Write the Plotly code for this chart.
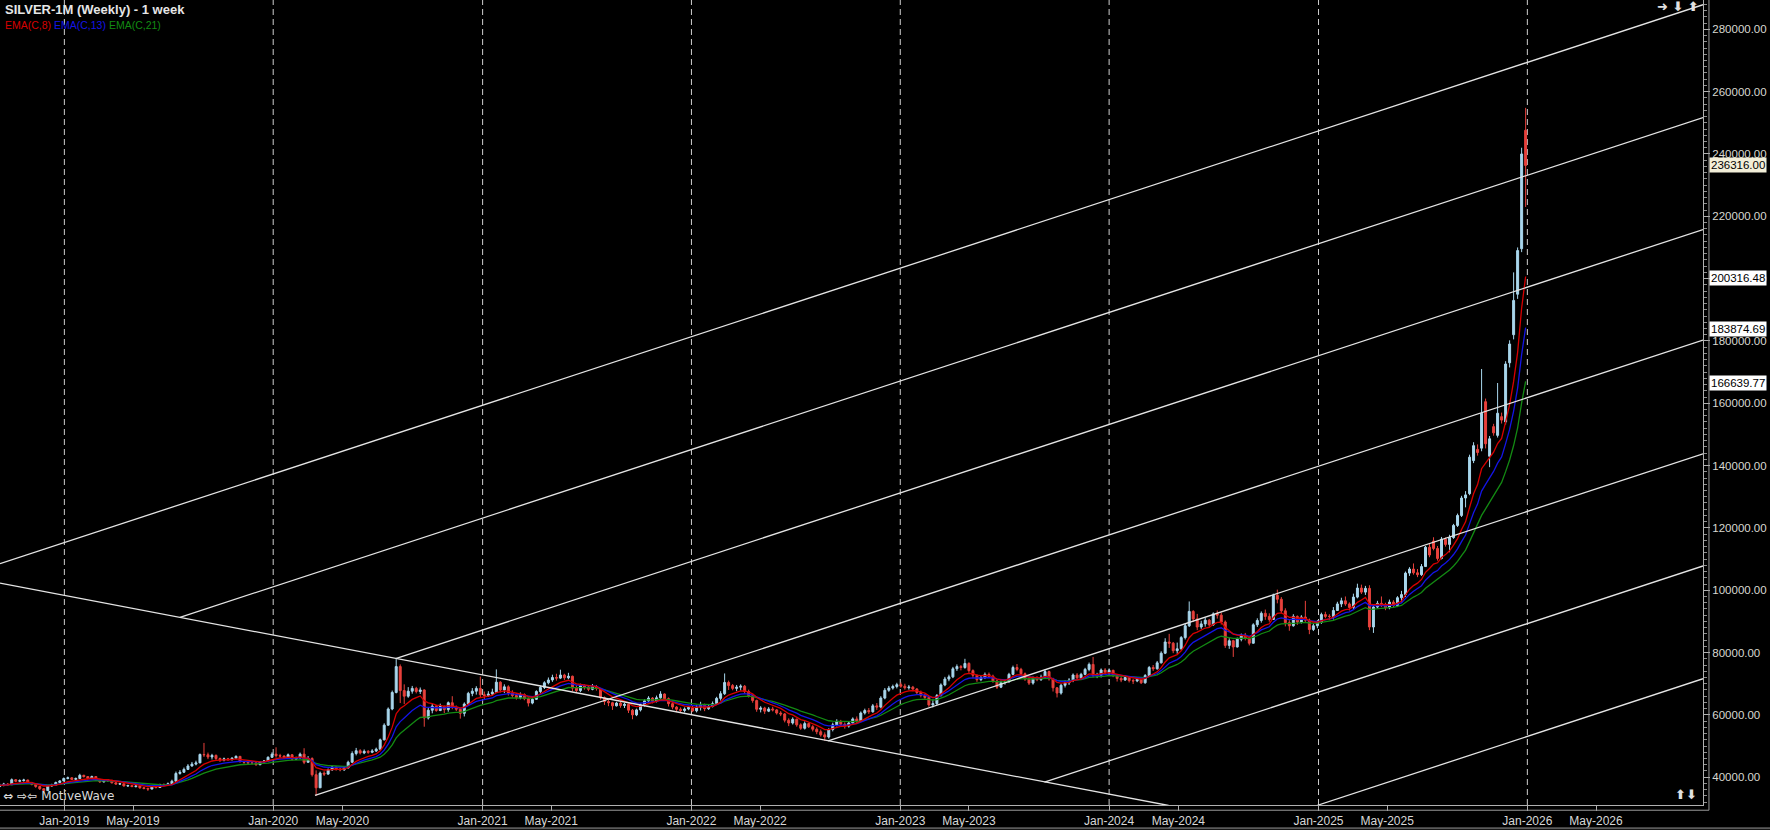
import pandas as pd
import plotly.graph_objects as go

TITLE = "SILVER-1M (Weekly) - 1 week"
FIRST_WEEK = "2018-09-10"

# Weekly closes, highs, lows in thousands
close_k = [
    37.4, 37.8, 37.6, 39.2, 38.7, 38.9, 39.1, 38.3, 37.7, 37.0,
    36.3, 35.7, 37.2, 37.5, 38.3, 38.8, 39.6, 39.8, 39.3, 39.6,
    40.6, 40.2, 39.6, 40.2, 39.3, 38.5, 38.9, 39.0, 38.2, 37.8,
    37.9, 37.2, 37.3, 37.0, 37.2, 36.6, 36.4, 36.2, 36.9, 36.7,
    37.6, 37.4, 37.9, 38.7, 41.2, 41.6, 42.5, 43.6, 44.2, 44.6,
    47.3, 47.2, 46.5, 47.0, 46.0, 45.5, 45.9, 45.7, 46.1, 46.7,
    45.0, 44.8, 44.6, 44.6, 44.0, 44.9, 45.2, 46.4, 47.4, 46.9,
    46.8, 46.4, 47.2, 45.8, 46.2, 47.4, 44.8, 46.0, 40.8, 36.6,
    41.3, 41.0, 42.4, 43.3, 42.6, 42.4, 43.0, 44.8, 47.6, 48.5,
    47.8, 48.3, 48.0, 48.4, 49.0, 52.0, 56.7, 61.9, 67.2, 75.5,
    67.8, 66.0, 67.6, 68.5, 67.5, 68.0, 59.0, 61.5, 62.8, 61.4,
    62.7, 61.7, 63.9, 62.4, 61.8, 60.5, 63.5, 66.9, 67.6, 68.5,
    66.5, 66.2, 66.7, 67.3, 70.5, 68.0, 69.0, 67.0, 66.2, 65.6,
    66.5, 65.2, 63.8, 65.0, 67.5, 68.8, 70.3, 71.2, 72.0, 71.8,
    72.8, 71.9, 72.4, 68.6, 67.8, 69.4, 68.9, 68.2, 69.0, 68.5,
    65.5, 64.3, 63.9, 62.9, 63.8, 63.0, 63.4, 61.5, 60.0, 61.6,
    63.2, 64.5, 65.4, 64.4, 65.5, 66.7, 65.2, 63.6, 62.5, 61.8,
    61.4, 61.9, 62.4, 61.3, 62.5, 63.1, 62.0, 62.7, 63.6, 65.3,
    66.8, 70.4, 69.4, 68.5, 68.9, 69.2, 67.5, 66.2, 64.6, 61.8,
    62.2, 61.2, 61.9, 61.6, 60.6, 60.3, 58.3, 57.4, 58.6, 56.8,
    55.7, 57.2, 56.2, 55.4, 54.6, 53.6, 52.9, 55.3, 56.8, 57.9,
    57.0, 56.4, 57.4, 58.7, 58.0, 60.6, 61.4, 61.0, 62.9, 62.5,
    65.4, 67.9, 68.6, 69.1, 69.7, 69.2, 68.7, 68.9, 68.3, 67.2,
    66.3, 65.6, 63.2, 63.6, 66.2, 69.6, 71.5, 72.2, 74.8, 75.5,
    75.2, 76.5, 74.2, 72.7, 71.3, 72.0, 73.0, 72.4, 70.9, 68.9,
    70.4, 70.6, 73.0, 75.2, 74.6, 73.2, 71.5, 70.2, 71.8, 71.3,
    72.1, 73.9, 71.6, 68.7, 67.0, 69.5, 70.3, 71.2, 72.8, 71.9,
    73.0, 74.6, 76.2, 72.6, 72.7, 74.4, 73.7, 74.3, 72.6, 71.7,
    71.2, 72.0, 71.0, 70.9, 71.4, 70.3, 72.6, 75.2, 74.8, 76.7,
    79.8, 83.4, 83.0, 80.6, 81.2, 84.8, 88.6, 93.2, 90.8, 88.2,
    89.2, 90.4, 88.9, 92.4, 92.0, 89.8, 82.3, 83.8, 81.8, 84.3,
    85.6, 84.6, 83.0, 88.9, 90.3, 92.6, 91.6, 90.6, 98.4, 97.1,
    93.4, 89.6, 88.6, 91.6, 89.8, 91.4, 90.4, 87.4, 88.6, 89.7,
    92.2, 91.6, 91.6, 93.5, 95.6, 96.6, 95.6, 94.5, 97.8, 100.7,
    99.4, 100.6, 88.2, 94.6, 95.8, 95.4, 94.4, 96.2, 95.1, 97.6,
    98.6, 105.5, 106.8, 105.6, 105.0, 107.6, 113.8, 111.3, 113.4, 110.2,
    116.4, 114.7, 116.9, 120.8, 124.0, 129.6, 130.6, 142.7, 146.4, 144.2,
    156.8, 147.0, 148.6, 150.5, 156.8, 154.6, 172.6, 179.0, 193.0, 209.0,
    240.0, 236.316,
]

high_k = [
    37.9, 38.2, 38.1, 39.6, 39.4, 39.3, 39.5, 39.2, 38.5, 37.9,
    37.2, 36.5, 37.5, 37.9, 38.6, 39.1, 39.9, 40.2, 40.0, 39.9,
    41.1, 40.8, 40.3, 40.5, 40.3, 39.4, 39.1, 39.4, 39.1, 38.4,
    38.2, 38.0, 37.6, 37.5, 37.4, 37.3, 36.9, 36.6, 37.1, 37.2,
    37.9, 38.0, 38.3, 39.2, 41.8, 42.3, 43.1, 44.2, 44.9, 45.3,
    47.6, 51.0, 47.9, 47.5, 47.3, 46.3, 46.3, 46.2, 46.4, 47.0,
    46.8, 45.3, 45.1, 45.0, 44.9, 45.2, 45.5, 46.7, 48.0, 49.6,
    47.5, 47.0, 47.6, 47.4, 46.6, 47.9, 49.3, 46.8, 46.4, 42.2,
    41.8, 41.9, 42.8, 43.8, 43.6, 43.0, 43.4, 45.3, 48.3, 49.4,
    49.0, 48.9, 48.7, 49.0, 49.5, 52.4, 57.3, 62.4, 67.8, 77.9,
    76.2, 69.8, 68.9, 69.3, 69.0, 68.8, 68.2, 62.3, 63.5, 63.2,
    63.6, 63.0, 64.3, 66.0, 63.0, 62.3, 64.0, 67.4, 68.6, 69.2,
    72.3, 67.5, 67.6, 68.4, 74.6, 70.8, 69.8, 69.5, 67.9, 67.0,
    67.2, 66.9, 65.6, 65.5, 67.9, 69.4, 70.8, 72.0, 72.9, 73.2,
    74.5, 73.2, 73.5, 72.6, 69.5, 70.0, 69.8, 69.3, 69.9, 69.6,
    68.6, 65.9, 64.8, 64.2, 64.2, 64.3, 63.9, 63.6, 61.9, 62.0,
    63.6, 65.0, 66.0, 65.7, 66.2, 67.6, 66.9, 65.6, 64.3, 62.8,
    62.4, 62.4, 62.9, 62.9, 63.2, 64.2, 63.6, 63.3, 64.3, 65.8,
    67.6, 73.3, 71.0, 69.9, 69.6, 69.8, 69.6, 68.1, 66.6, 64.9,
    62.8, 62.6, 62.5, 62.6, 61.9, 61.2, 60.6, 58.9, 59.2, 58.8,
    57.3, 57.9, 57.5, 56.7, 56.0, 55.3, 54.4, 55.7, 57.5, 58.6,
    58.4, 57.6, 58.0, 59.2, 59.5, 61.1, 62.0, 62.2, 63.5, 63.8,
    66.0, 68.6, 69.3, 69.7, 70.3, 70.4, 70.0, 69.6, 69.3, 68.6,
    67.8, 66.7, 65.9, 64.9, 66.7, 70.1, 72.2, 72.9, 75.4, 76.2,
    76.0, 78.0, 76.9, 74.6, 73.0, 72.6, 73.6, 73.6, 72.9, 71.2,
    71.0, 71.3, 73.5, 75.8, 76.3, 75.1, 73.6, 71.9, 72.3, 72.4,
    72.9, 74.5, 74.2, 71.9, 68.9, 70.0, 71.2, 71.8, 73.3, 73.4,
    73.5, 75.1, 76.8, 78.6, 73.5, 74.9, 75.0, 74.9, 74.5, 72.9,
    72.4, 72.6, 72.5, 71.6, 72.0, 71.7, 73.1, 75.7, 76.0, 77.3,
    80.4, 84.6, 86.0, 83.4, 83.2, 85.3, 89.2, 96.4, 93.6, 92.4,
    90.2, 91.2, 90.8, 92.9, 93.5, 92.8, 90.3, 84.6, 84.1, 84.8,
    86.1, 86.3, 85.0, 89.4, 91.0, 93.2, 93.8, 92.6, 98.9, 100.2,
    97.8, 94.2, 90.4, 92.3, 91.9, 92.0, 96.6, 90.9, 89.3, 90.4,
    92.8, 93.1, 92.3, 94.6, 96.3, 97.6, 98.0, 96.1, 98.9, 102.1,
    101.8, 101.4, 101.6, 95.4, 96.6, 98.0, 96.0, 97.0, 96.8, 98.1,
    99.8, 106.0, 107.4, 108.6, 106.8, 108.4, 114.2, 114.8, 117.0, 114.2,
    117.1, 116.9, 117.8, 121.3, 124.6, 130.3, 131.8, 143.5, 147.5, 146.8,
    171.0, 161.5, 149.5, 153.4, 166.5, 157.0, 173.5, 180.2, 202.0, 210.0,
    242.0, 254.8,
]

low_k = [
    36.9, 37.1, 37.2, 37.5, 38.4, 38.4, 38.6, 38.0, 37.4, 36.6,
    35.9, 35.1, 35.6, 36.9, 37.3, 38.1, 38.7, 39.3, 39.1, 39.0,
    39.5, 39.9, 39.3, 39.5, 39.0, 38.2, 38.3, 38.6, 38.0, 37.6,
    37.5, 37.0, 36.9, 36.8, 36.7, 36.3, 36.1, 35.6, 36.1, 36.4,
    36.6, 37.1, 37.2, 37.8, 38.6, 40.8, 41.4, 42.3, 43.4, 43.8,
    44.5, 46.5, 45.8, 45.7, 45.4, 44.9, 45.1, 45.2, 45.3, 45.9,
    44.7, 44.3, 44.2, 44.1, 43.7, 43.9, 44.6, 45.0, 46.2, 46.3,
    46.2, 46.0, 46.1, 45.4, 45.6, 46.0, 44.2, 44.6, 40.2, 34.0,
    36.8, 40.4, 40.8, 42.0, 42.1, 41.9, 42.0, 42.8, 44.6, 47.0,
    47.3, 47.4, 47.5, 47.7, 48.1, 48.8, 51.8, 56.5, 61.5, 66.9,
    63.8, 63.5, 65.5, 66.8, 66.9, 66.7, 56.2, 58.5, 60.5, 61.0,
    61.2, 60.6, 61.0, 61.8, 61.2, 58.8, 59.5, 63.2, 66.0, 66.5,
    65.5, 64.9, 65.8, 66.3, 67.0, 67.2, 67.0, 66.2, 65.5, 64.9,
    65.0, 64.7, 62.7, 63.4, 64.8, 67.0, 68.3, 69.8, 70.6, 71.0,
    71.5, 71.2, 71.4, 67.5, 67.2, 67.3, 68.1, 67.6, 67.9, 67.8,
    64.9, 63.2, 62.8, 61.6, 62.7, 62.3, 62.2, 60.6, 58.6, 59.6,
    61.1, 62.7, 64.1, 63.7, 64.0, 65.1, 64.6, 62.7, 61.8, 60.9,
    60.6, 60.8, 61.5, 60.9, 60.8, 61.4, 61.2, 61.6, 62.4, 63.3,
    64.6, 66.4, 68.0, 67.9, 67.6, 67.8, 66.8, 65.6, 63.9, 61.0,
    60.8, 60.3, 60.9, 61.1, 60.1, 59.6, 57.6, 56.4, 56.9, 56.2,
    55.2, 55.3, 55.8, 54.7, 53.8, 53.0, 51.7, 52.4, 54.7, 56.3,
    56.3, 55.6, 55.9, 56.9, 57.3, 57.8, 60.1, 60.3, 60.7, 61.6,
    62.1, 65.0, 67.4, 68.1, 68.5, 68.7, 68.1, 68.1, 67.6, 66.7,
    65.6, 64.9, 62.6, 62.4, 63.2, 65.9, 69.2, 70.8, 71.8, 74.1,
    74.3, 74.8, 73.5, 71.8, 70.6, 70.8, 71.5, 71.8, 70.3, 68.3,
    68.6, 69.7, 70.4, 72.7, 74.0, 72.6, 70.9, 69.6, 69.7, 70.8,
    70.9, 71.7, 71.0, 67.5, 65.6, 66.5, 68.8, 69.6, 70.5, 71.2,
    71.4, 72.7, 74.0, 72.0, 71.8, 72.0, 72.9, 73.0, 72.1, 70.7,
    70.5, 70.9, 70.4, 69.9, 70.5, 69.9, 70.0, 72.2, 74.1, 74.5,
    76.5, 79.5, 81.5, 79.8, 79.6, 80.9, 84.2, 88.2, 89.8, 87.2,
    87.6, 88.3, 88.0, 88.6, 90.9, 89.0, 81.5, 81.2, 78.6, 81.6,
    83.6, 83.9, 82.3, 82.9, 88.2, 89.6, 90.5, 89.9, 90.5, 95.8,
    92.6, 88.4, 87.0, 88.3, 88.9, 89.3, 89.8, 85.9, 86.9, 87.8,
    89.2, 91.0, 90.4, 90.6, 93.4, 94.6, 95.0, 93.5, 94.0, 97.4,
    98.8, 98.5, 87.2, 86.3, 94.2, 94.6, 93.6, 93.9, 94.3, 94.6,
    96.0, 97.8, 104.6, 105.0, 104.2, 104.6, 107.5, 110.6, 112.8, 109.5,
    109.9, 114.0, 112.2, 116.5, 120.3, 123.5, 126.6, 130.5, 140.8, 143.2,
    144.6, 145.5, 139.5, 149.6, 149.0, 153.5, 153.2, 171.5, 180.5, 193.5,
    208.5, 223.0,
]

first_open_k = 37.0
# weeks whose open gapped away from the previous close (index: open, thousands)
open_gaps_k = {
    358: 115.8, 367: 131.0, 368: 141.6, 369: 145.2, 370: 145.6, 371: 160.5,
    372: 143.0, 373: 152.5, 374: 149.7, 375: 155.7, 376: 154.0, 377: 173.0,
    378: 182.0, 379: 195.0, 380: 209.6, 381: 247.6,
}

ema_periods = [8, 13, 21]
ema_labels = ["EMA(C,8)", "EMA(C,13)", "EMA(C,21)"]
ema_colors = ["#d80000", "#1414e6", "#138a13"]

# Drawn channel / fork lines: start and end (date, price)
line_start_dates = ["2018-09-10 12:00", "2018-09-10 12:00", "2019-07-22", "2020-08-02",
                    "2020-03-14", "2022-08-28", "2023-09-10", "2024-12-29"]
line_start_vals = [102303, 108533, 91290, 78092, 34134, 51666, 38437, 30923]
line_end_dates = ["2024-04-14", "2026-11-04", "2026-11-04", "2026-11-04",
                  "2026-11-04", "2026-11-04", "2026-11-04", "2026-11-04"]
line_end_vals = [30923, 287899, 251680, 215746, 180298, 143789, 107794, 71606]

# Right-axis price tags
tag_values = [236316.00, 200316.48, 183874.69, 166639.77]
tag_bg = ["#f2eed8", "#ffffff", "#ffffff", "#ffffff"]

x_range = ["2018-09-10 12:00", "2026-11-04"]
y_range = [31083, 289408]
tick_years = list(range(2019, 2027))
tick_months = [1, 5]

UP = "#a8d6ec"
DN = "#e8413c"
FONT = "Liberation Sans, Arial, sans-serif"

# ---------------------------------------------------------------------------
dates = pd.date_range(FIRST_WEEK, periods=len(close_k), freq="7D")
closes = [v * 1000 for v in close_k]
opens = [first_open_k * 1000] + closes[:-1]
for k, v in open_gaps_k.items():
    opens[k] = v * 1000
highs = [max(h * 1000, o, c) for h, o, c in zip(high_k, opens, closes)]
lows = [min(l * 1000, o, c) for l, o, c in zip(low_k, opens, closes)]

fig = go.Figure()

fig.add_trace(go.Candlestick(
    x=dates, open=opens, high=highs, low=lows, close=closes,
    increasing=dict(line=dict(color=UP, width=1), fillcolor=UP),
    decreasing=dict(line=dict(color=DN, width=1), fillcolor=DN),
    whiskerwidth=0, hoverinfo="skip", showlegend=False,
))

cs = pd.Series(closes)
for p, col in zip(ema_periods[::-1], ema_colors[::-1]):
    ema = cs.ewm(span=p, adjust=False).mean()
    fig.add_trace(go.Scatter(x=dates, y=ema, mode="lines",
                             line=dict(color=col, width=1.3),
                             hoverinfo="skip", showlegend=False))

for xs, ys, xe, ye in zip(line_start_dates, line_start_vals, line_end_dates, line_end_vals):
    fig.add_trace(go.Scatter(x=[xs, xe], y=[ys, ye], mode="lines",
                             line=dict(color="#e4e4e4", width=1.3),
                             hoverinfo="skip", showlegend=False))

shapes = []
for yr in tick_years:
    shapes.append(dict(type="line", xref="x", yref="paper",
                       x0=f"{yr}-01-01", x1=f"{yr}-01-01", y0=0, y1=1,
                       line=dict(color="#cfcfcf", width=1, dash="6px,4px"), layer="below"))
# secondary frame lines under the x axis and right of the y axis
shapes.append(dict(type="line", xref="paper", yref="paper", x0=0, x1=1.0035,
                   y0=-0.0065, y1=-0.0065, line=dict(color="#9a9a9a", width=1)))
shapes.append(dict(type="line", xref="paper", yref="paper", x0=1.0035, x1=1.0035,
                   y0=-0.0065, y1=1, line=dict(color="#9a9a9a", width=1)))
shapes.append(dict(type="line", xref="paper", yref="paper", x0=0, x1=1.04,
                   y0=-0.029, y1=-0.029, line=dict(color="#5a5a5a", width=2)))

tickvals = [f"{y}-{m:02d}-01" for y in tick_years for m in tick_months]

ann = [
    dict(xref="paper", yref="paper", x=0, y=1, xanchor="left", yanchor="top",
         xshift=3, yshift=0, showarrow=False,
         text=f"<b>{TITLE}</b>", font=dict(family=FONT, size=13, color="#e6e6e6")),
    dict(xref="paper", yref="paper", x=0, y=1, xanchor="left", yanchor="top",
         xshift=3, yshift=-17, showarrow=False,
         text=" ".join(f'<span style="color:{c}">{t}</span>' for t, c in zip(ema_labels, ema_colors)),
         font=dict(family=FONT, size=10.5)),
    dict(xref="paper", yref="paper", x=0, y=0, xanchor="left", yanchor="bottom",
         xshift=1, yshift=0, showarrow=False,
         text="<b>⇔ ⇨⇦</b> MotiveWave", font=dict(family="DejaVu Sans, " + FONT, size=12, color="#d8d8d8")),
    dict(xref="paper", yref="paper", x=1, y=1, xanchor="right", yanchor="top",
         xshift=-2, yshift=3, showarrow=False,
         text="<b>➜ ⬇ ⬆</b>", font=dict(family="DejaVu Sans", size=13, color="#e0e0e0")),
    dict(xref="paper", yref="paper", x=1, y=0, xanchor="right", yanchor="bottom",
         xshift=-4, yshift=1, showarrow=False,
         text="<b>⬆⬇</b>", font=dict(family="DejaVu Sans", size=13, color="#e0e0e0")),
]
for v, bg in zip(tag_values, tag_bg):
    ann.append(dict(xref="paper", yref="y", x=1, y=v, xanchor="left", yanchor="middle",
                    xshift=6, showarrow=False, text=f"{v:.2f}",
                    bgcolor=bg, borderpad=1,
                    font=dict(family=FONT, size=11.5, color="#000000")))

fig.update_layout(
    width=1770, height=830,
    margin=dict(l=0, r=67, t=0, b=25),
    paper_bgcolor="#000000", plot_bgcolor="#000000",
    showlegend=False, hovermode=False,
    shapes=shapes, annotations=ann,
    xaxis=dict(
        type="date", range=x_range, rangeslider=dict(visible=False),
        tickvals=tickvals, tickformat="%b-%Y",
        ticks="outside", ticklen=5, tickcolor="#b0b0b0",
        showgrid=False, zeroline=False,
        showline=True, linecolor="#b0b0b0", linewidth=1,
        tickfont=dict(family=FONT, size=12, color="#d8d8d8"),
    ),
    yaxis=dict(
        side="right", range=y_range, dtick=20000, tick0=0,
        tickformat=".2f", ticks="outside", ticklen=6, tickcolor="#b0b0b0",
        minor=dict(dtick=2000, ticks="outside", ticklen=3, tickcolor="#909090", showgrid=False),
        showgrid=False, zeroline=False,
        showline=True, linecolor="#b0b0b0", linewidth=1,
        tickfont=dict(family=FONT, size=11.5, color="#d8d8d0"),
    ),
)

fig.write_html("out.html",
               config={"displayModeBar": False},
               post_script="document.body.style.margin='0';document.body.style.overflow='hidden';")
